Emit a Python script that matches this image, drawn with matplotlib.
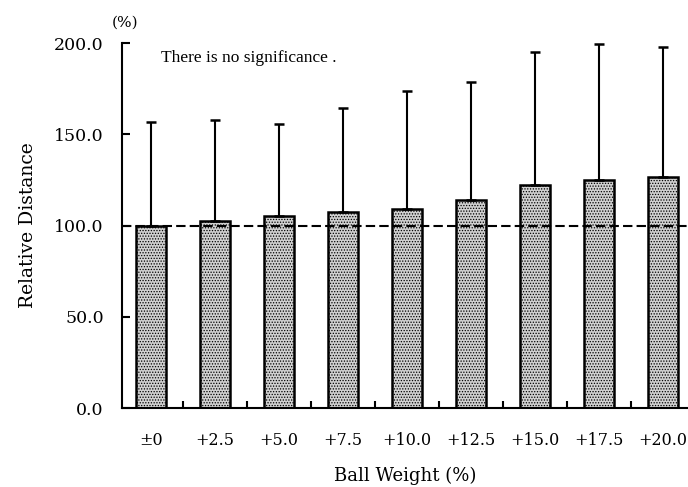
import numpy as np
import matplotlib
matplotlib.use('Agg')
import matplotlib.pyplot as plt

weights = ['\u00b10', '+2.5', '+5.0', '+7.5', '+10.0', '+12.5', '+15.0', '+17.5', '+20.0']
rel_dist = [100.0, 102.5, 105.2, 107.4, 109.0, 114.0, 122.0, 125.0, 126.6]
sd = [56.7, 55.3, 50.4, 57.0, 64.7, 64.6, 73.0, 74.5, 71.4]
yticks = [0.0, 50.0, 100.0, 150.0, 200.0]

plt.rcParams['font.family'] = ['DejaVu Serif']
plt.rcParams['hatch.color'] = '#505050'
plt.rcParams['hatch.linewidth'] = 0.6

fig = plt.figure(figsize=(6.88, 4.87), dpi=100)
ax = fig.add_axes([0.177, 0.162, 0.823, 0.7495])

x = np.arange(len(weights))
ax.bar(x, rel_dist, width=0.46, facecolor='#d0d0d0', edgecolor='black',
       linewidth=1.8, hatch='......', zorder=2)
ax.errorbar(x, rel_dist, yerr=[np.zeros(len(sd)), sd], fmt='none',
            ecolor='black', elinewidth=1.5, capsize=3.5, capthick=1.8, zorder=3)
ax.axhline(100, color='black', linestyle=(0, (4.5, 2)), linewidth=1.5, zorder=4)

ax.set_xlim(-0.46, 8.39)
ax.set_ylim(0, 200)
ax.spines['top'].set_visible(False)
ax.spines['right'].set_visible(False)
ax.spines['left'].set_linewidth(1.5)
ax.spines['bottom'].set_linewidth(1.5)

ax.set_yticks(yticks)
ax.set_yticklabels(['%.1f' % v for v in yticks], fontsize=12.5)
ax.set_xticks(x)
ax.set_xticklabels(weights, fontsize=11.5)
ax.set_xticks(x[:-1] + 0.5, minor=True)
ax.tick_params(axis='x', which='major', length=0, pad=17)
ax.tick_params(axis='x', which='minor', direction='in', length=5, width=1.5)
ax.tick_params(axis='y', direction='in', length=6, width=1.5, pad=13)

ax.set_xlabel('Ball Weight (%)', fontsize=13, labelpad=13)
ax.set_ylabel('Relative Distance', fontsize=13.5, labelpad=12)
ax.text(0.005, 1.045, '(%)', transform=ax.transAxes, fontsize=11, ha='center')
ax.text(0.07, 0.96, 'There is no significance .', transform=ax.transAxes,
        fontsize=12.5, va='center', family='Liberation Serif')

fig.savefig('out.png', dpi=100)
